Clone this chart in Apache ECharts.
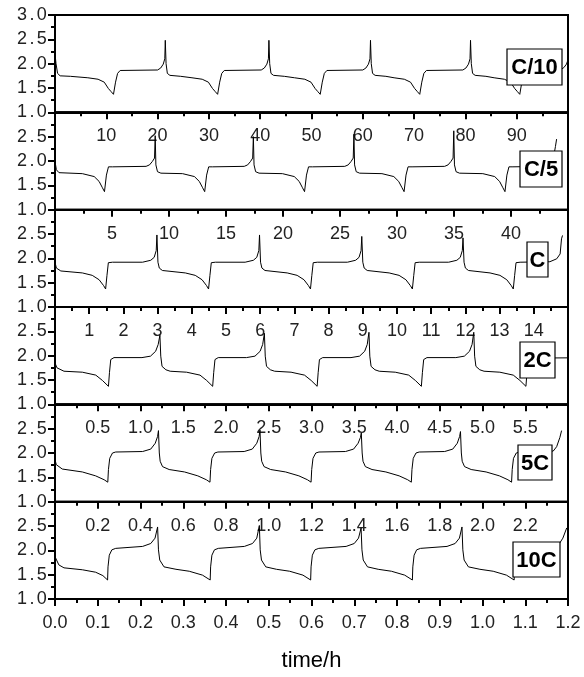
<!DOCTYPE html>
<html>
<head>
<meta charset="utf-8">
<script src="https://cdn.jsdelivr.net/npm/echarts/dist/echarts.min.js"></script>
<style>
  html, body { margin: 0; padding: 0; background: #fff; }
  #chart { width: 584px; height: 677px; }
</style>
</head>
<body>
<div id="chart"></div>
<script>
// Charge/discharge voltage profiles at six rates, each panel with its own time scale (h).
const rateLabels = ['C/10', 'C/5', 'C', '2C', '5C', '10C'];
const timeMax = [100, 45, 15, 6, 2.4, 1.2];
const timeStep = [10, 5, 1, 0.5, 0.2, 0.1];
const timeDecimals = [0, 0, 0, 1, 1, 1];
const voltMin = 1.0, voltMax = 3.0, voltStep = 0.5;

// [time, voltage] samples
const voltC10 = [
  [0,2.20],[0.2,2.00],[0.5,1.80],[1.0,1.75],[3.0,1.74],[6.4,1.71],[8.4,1.68],[9.6,1.62],[10.4,1.49],[10.9,1.43],[11.4,1.37],
  [11.8,1.62],[12.2,1.80],[12.7,1.86],[20.0,1.87],[20.6,1.91],[21.1,1.99],[21.4,2.10],[21.5,2.48],
  [21.65,2.00],[21.9,1.80],[22.4,1.76],[24.5,1.74],[26.7,1.71],[28.7,1.68],[29.9,1.62],[30.7,1.49],[31.2,1.43],[31.7,1.37],
  [32.1,1.62],[32.5,1.80],[33.0,1.86],[40.2,1.87],[40.8,1.91],[41.3,1.99],[41.6,2.10],[41.7,2.48],
  [41.85,2.00],[42.1,1.80],[42.6,1.76],[44.7,1.74],[46.7,1.71],[48.7,1.68],[49.9,1.62],[50.7,1.49],[51.2,1.43],[51.7,1.37],
  [52.1,1.62],[52.5,1.80],[53.0,1.86],[60.0,1.87],[60.6,1.91],[61.1,1.99],[61.4,2.10],[61.5,2.48],
  [61.65,2.00],[61.9,1.80],[62.4,1.76],[64.5,1.74],[66.1,1.71],[68.1,1.68],[69.3,1.62],[70.1,1.49],[70.6,1.43],[71.1,1.37],
  [71.5,1.62],[71.9,1.80],[72.4,1.86],[79.5,1.87],[80.1,1.91],[80.6,1.99],[80.9,2.10],[81.0,2.48],
  [81.15,2.00],[81.4,1.80],[81.9,1.76],[84.0,1.74],[85.6,1.71],[87.6,1.68],[88.8,1.62],[89.6,1.49],[90.1,1.43],[90.6,1.37],
  [91.0,1.62],[91.4,1.80],[91.9,1.86],[98.5,1.87],[99.2,1.92],[99.7,1.99],[100,2.08]
];
const voltC5 = [
  [0,1.99],[0.12,1.82],[0.35,1.76],[2.4,1.74],[3.44,1.68],[3.87,1.58],[4.16,1.45],[4.34,1.37],
  [4.51,1.71],[4.69,1.88],[5.04,1.88],[7.99,1.89],[8.29,1.92],[8.54,1.99],[8.73,2.06],[8.79,2.52],
  [8.85,1.92],[8.99,1.78],[9.29,1.75],[11.19,1.74],[12.23,1.68],[12.66,1.58],[12.95,1.45],[13.13,1.37],
  [13.30,1.71],[13.48,1.88],[13.83,1.88],[16.60,1.89],[16.90,1.92],[17.15,1.99],[17.34,2.06],[17.40,2.50],
  [17.46,1.92],[17.60,1.78],[17.90,1.75],[19.95,1.74],[20.99,1.68],[21.42,1.58],[21.71,1.45],[21.89,1.37],
  [22.06,1.71],[22.24,1.88],[22.59,1.88],[25.42,1.89],[25.72,1.92],[25.97,1.99],[26.16,2.06],[26.22,2.55],
  [26.28,1.92],[26.42,1.78],[26.72,1.75],[28.68,1.74],[29.72,1.68],[30.15,1.58],[30.44,1.45],[30.62,1.37],
  [30.79,1.71],[30.97,1.88],[31.32,1.88],[34.18,1.89],[34.48,1.92],[34.73,1.99],[34.92,2.06],[34.98,2.62],
  [35.04,1.92],[35.18,1.78],[35.48,1.75],[37.53,1.74],[38.57,1.68],[39.00,1.58],[39.29,1.45],[39.47,1.37],
  [39.64,1.71],[39.82,1.88],[40.17,1.88],[42.9,1.89],[43.2,1.92],[43.5,1.99],[43.75,2.10],[43.9,2.30],[44.0,2.45]
];
const voltC1 = [
  [0,1.92],[0.04,1.80],[0.17,1.74],[0.80,1.70],[1.09,1.65],[1.29,1.56],[1.42,1.44],[1.48,1.37],
  [1.52,1.65],[1.56,1.91],[1.68,1.92],[2.56,1.92],[2.80,1.96],[2.90,2.02],[2.96,2.16],[2.98,2.48],
  [3.01,1.92],[3.05,1.80],[3.14,1.75],[3.81,1.70],[4.10,1.65],[4.30,1.56],[4.43,1.44],[4.49,1.37],
  [4.53,1.65],[4.57,1.91],[4.69,1.92],[5.56,1.92],[5.80,1.96],[5.90,2.02],[5.96,2.16],[5.98,2.48],
  [6.01,1.92],[6.05,1.80],[6.14,1.75],[6.79,1.70],[7.08,1.65],[7.28,1.56],[7.41,1.44],[7.47,1.37],
  [7.51,1.65],[7.55,1.91],[7.67,1.92],[8.55,1.92],[8.79,1.96],[8.89,2.02],[8.95,2.16],[8.97,2.45],
  [9.00,1.92],[9.04,1.80],[9.13,1.75],[9.77,1.70],[10.06,1.65],[10.26,1.56],[10.39,1.44],[10.45,1.37],
  [10.49,1.65],[10.53,1.91],[10.65,1.92],[11.51,1.92],[11.75,1.96],[11.85,2.02],[11.91,2.16],[11.93,2.42],
  [11.96,1.92],[12.00,1.80],[12.09,1.75],[12.72,1.70],[13.01,1.65],[13.21,1.56],[13.34,1.44],[13.40,1.37],
  [13.44,1.65],[13.48,1.91],[13.60,1.92],[14.47,1.93],[14.67,1.99],[14.77,2.09],[14.81,2.40],[14.84,2.47]
];
const volt2C = [
  [0,1.85],[0.023,1.75],[0.105,1.68],[0.32,1.66],[0.477,1.60],[0.555,1.49],[0.625,1.37],
  [0.637,1.65],[0.652,1.92],[0.69,1.96],[1.017,1.96],[1.117,1.99],[1.177,2.09],[1.207,2.23],[1.227,2.42],
  [1.237,1.99],[1.252,1.78],[1.297,1.71],[1.347,1.68],[1.539,1.66],[1.696,1.60],[1.774,1.49],[1.844,1.37],
  [1.856,1.65],[1.871,1.92],[1.909,1.96],[2.239,1.96],[2.339,1.99],[2.399,2.09],[2.429,2.23],[2.449,2.46],
  [2.459,1.99],[2.474,1.78],[2.519,1.71],[2.569,1.68],[2.761,1.66],[2.918,1.60],[2.996,1.49],[3.066,1.37],
  [3.078,1.65],[3.093,1.92],[3.131,1.96],[3.462,1.96],[3.562,1.99],[3.622,2.09],[3.652,2.23],[3.672,2.48],
  [3.682,1.99],[3.697,1.78],[3.742,1.71],[3.792,1.68],[3.980,1.66],[4.137,1.60],[4.215,1.49],[4.285,1.37],
  [4.297,1.65],[4.312,1.92],[4.350,1.96],[4.688,1.96],[4.788,1.99],[4.848,2.09],[4.878,2.23],[4.898,2.48],
  [4.908,1.99],[4.923,1.78],[4.968,1.71],[5.018,1.68],[5.203,1.66],[5.360,1.60],[5.438,1.49],[5.508,1.37],
  [5.520,1.65],[5.535,1.92],[5.573,1.95],[6.0,1.955]
];
const volt5C = [
  [0,1.86],[0.006,1.76],[0.034,1.67],[0.128,1.61],[0.190,1.53],[0.230,1.45],[0.247,1.40],
  [0.250,1.66],[0.256,1.89],[0.269,2.00],[0.284,2.02],[0.410,2.03],[0.448,2.08],[0.469,2.20],[0.480,2.34],[0.484,2.46],
  [0.488,2.00],[0.492,1.83],[0.503,1.72],[0.534,1.66],[0.606,1.61],[0.668,1.53],[0.708,1.45],[0.725,1.40],
  [0.728,1.66],[0.734,1.89],[0.747,2.00],[0.762,2.02],[0.885,2.03],[0.923,2.08],[0.944,2.20],[0.955,2.34],[0.959,2.47],
  [0.963,2.00],[0.967,1.83],[0.978,1.72],[1.009,1.66],[1.079,1.61],[1.141,1.53],[1.181,1.45],[1.198,1.40],
  [1.201,1.66],[1.207,1.89],[1.220,2.00],[1.235,2.02],[1.359,2.03],[1.397,2.08],[1.418,2.20],[1.429,2.32],[1.433,2.41],
  [1.437,2.00],[1.441,1.83],[1.452,1.72],[1.483,1.66],[1.548,1.61],[1.610,1.53],[1.650,1.45],[1.667,1.40],
  [1.670,1.66],[1.676,1.89],[1.689,2.00],[1.704,2.02],[1.823,2.03],[1.861,2.08],[1.882,2.20],[1.893,2.34],[1.897,2.44],
  [1.901,2.00],[1.905,1.83],[1.916,1.72],[1.947,1.66],[2.017,1.61],[2.079,1.53],[2.119,1.45],[2.136,1.40],
  [2.139,1.66],[2.145,1.89],[2.158,2.00],[2.173,2.02],[2.300,2.02],[2.331,2.04],[2.347,2.13],[2.362,2.32],[2.370,2.46]
];
const volt10C = [
  [0,1.87],[0.009,1.70],[0.021,1.64],[0.064,1.60],[0.095,1.55],[0.112,1.48],[0.123,1.39],
  [0.124,1.66],[0.127,1.90],[0.133,2.01],[0.142,2.04],[0.205,2.08],[0.224,2.14],[0.234,2.25],[0.240,2.48],
  [0.242,2.01],[0.245,1.80],[0.255,1.66],[0.283,1.61],[0.314,1.57],[0.345,1.49],[0.363,1.39],
  [0.364,1.66],[0.367,1.90],[0.373,2.01],[0.382,2.04],[0.443,2.08],[0.462,2.14],[0.472,2.25],[0.478,2.51],
  [0.480,2.01],[0.483,1.80],[0.493,1.66],[0.518,1.61],[0.549,1.57],[0.580,1.49],[0.598,1.39],
  [0.599,1.66],[0.602,1.90],[0.608,2.01],[0.617,2.04],[0.681,2.08],[0.700,2.14],[0.710,2.25],[0.716,2.46],
  [0.718,2.01],[0.721,1.80],[0.731,1.66],[0.756,1.61],[0.787,1.57],[0.818,1.49],[0.836,1.39],
  [0.837,1.66],[0.840,1.90],[0.846,2.01],[0.855,2.04],[0.917,2.08],[0.936,2.14],[0.946,2.25],[0.952,2.48],
  [0.954,2.01],[0.957,1.80],[0.967,1.66],[0.994,1.61],[1.025,1.57],[1.056,1.49],[1.074,1.39],
  [1.075,1.66],[1.078,1.90],[1.084,2.01],[1.093,2.04],[1.160,2.08],[1.180,2.14],[1.188,2.25],[1.197,2.46]
];
const panelData = [voltC10, voltC5, voltC1, volt2C, volt5C, volt10C];

// Layout
const FONT = 'Liberation Sans, Arial, sans-serif';
const plotLeft = 55, plotRight = 16, plotTop = 15, panelH = 97.33;
const rateBoxes = [
  [507, 49, 562, 85],
  [520, 151, 562, 187],
  [527, 242, 548, 277],
  [520, 342, 555, 378],
  [518, 445, 552, 480],
  [513, 542, 560, 577]
];

const grids = [], xAxes = [], yAxes = [], series = [];
panelData.forEach(function (data, i) {
  const isLast = i === panelData.length - 1;
  grids.push({
    left: plotLeft, right: plotRight,
    top: plotTop + i * panelH, height: panelH,
    show: true, borderColor: '#000', borderWidth: 2, backgroundColor: 'transparent'
  });
  const tmax = timeMax[i], dec = timeDecimals[i];
  xAxes.push({
    type: 'value', gridIndex: i, min: 0, max: tmax, interval: timeStep[i],
    axisLine: { lineStyle: { color: '#000', width: 2 } },
    axisTick: { length: 7, lineStyle: { color: '#000', width: 2 } },
    minorTick: { show: true, splitNumber: 2, length: 4, lineStyle: { color: '#000', width: 2 } },
    splitLine: { show: false },
    axisLabel: {
      margin: 15, fontSize: 18, fontFamily: FONT, color: '#222',
      formatter: function (v) {
        if (!isLast && (Math.abs(v) < 1e-9 || Math.abs(v - tmax) < 1e-9)) return '';
        return v.toFixed(dec);
      }
    }
  });
  yAxes.push({
    type: 'value', gridIndex: i, min: voltMin, max: voltMax, interval: voltStep,
    axisLine: { lineStyle: { color: '#000', width: 2 } },
    axisTick: { length: 7, lineStyle: { color: '#000', width: 2 } },
    minorTick: { show: true, splitNumber: 2, length: 4, lineStyle: { color: '#000', width: 2 } },
    splitLine: { show: false },
    axisLabel: {
      margin: 7,
      formatter: function (v) {
        if (i > 0 && v > voltMax - 1e-9) return '';
        return v.toFixed(1).split('').map(function (ch) { return '{d|' + ch + '}'; }).join('');
      },
      rich: { d: { fontSize: 18, fontFamily: FONT, color: '#222', padding: [0, 1.2, 0, 1.2] } }
    }
  });
  series.push({
    type: 'line', xAxisIndex: i, yAxisIndex: i, data: data,
    showSymbol: false, symbol: 'none', smooth: false,
    lineStyle: { color: '#000', width: 1 }
  });
});

const graphics = [];
rateLabels.forEach(function (label, i) {
  const b = rateBoxes[i];
  graphics.push({
    type: 'rect', z: 100,
    shape: { x: b[0], y: b[1], width: b[2] - b[0], height: b[3] - b[1] },
    style: { fill: '#fff', stroke: '#000', lineWidth: 1.2 }
  });
  graphics.push({
    type: 'text', z: 101,
    x: (b[0] + b[2]) / 2, y: (b[1] + b[3]) / 2 + 1,
    style: { text: label, fill: '#000', font: 'bold 22px ' + FONT, align: 'center', verticalAlign: 'middle' }
  });
});
graphics.push({
  type: 'text', z: 101, x: 311.5, y: 661,
  style: { text: 'time/h', fill: '#000', font: '22px ' + FONT, align: 'center', verticalAlign: 'middle' }
});

const chart = echarts.init(document.getElementById('chart'), null, { renderer: 'canvas' });
chart.setOption({
  animation: false,
  backgroundColor: '#fff',
  grid: grids,
  xAxis: xAxes,
  yAxis: yAxes,
  series: series,
  graphic: graphics
});
</script>
</body>
</html>
